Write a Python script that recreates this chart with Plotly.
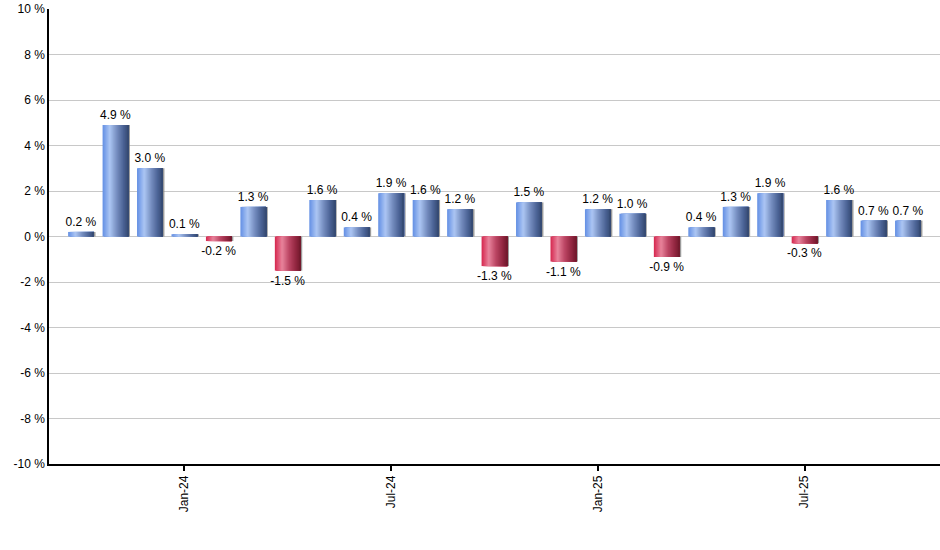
import plotly.graph_objects as go

months = ["Oct-23", "Nov-23", "Dec-23", "Jan-24", "Feb-24", "Mar-24", "Apr-24", "May-24",
          "Jun-24", "Jul-24", "Aug-24", "Sep-24", "Oct-24", "Nov-24", "Dec-24", "Jan-25",
          "Feb-25", "Mar-25", "Apr-25", "May-25", "Jun-25", "Jul-25", "Aug-25", "Sep-25", "Oct-25"]
values = [0.2, 4.9, 3.0, 0.1, -0.2, 1.3, -1.5, 1.6, 0.4, 1.9, 1.6, 1.2, -1.3, 1.5, -1.1,
          1.2, 1.0, -0.9, 0.4, 1.3, 1.9, -0.3, 1.6, 0.7, 0.7]
tick_labels = ["Jan-24", "Jul-24", "Jan-25", "Jul-25"]
y_ticks = list(range(-10, 11, 2))

BAR_W = 0.75
N_SLICES = 24
blue_stops = [(0.0, (98, 143, 228)), (0.28, (172, 198, 243)), (0.55, (118, 142, 192)),
              (0.8, (76, 100, 150)), (1.0, (52, 72, 112))]
red_stops = [(0.0, (214, 38, 78)), (0.28, (232, 132, 156)), (0.55, (188, 70, 100)),
             (0.8, (148, 40, 66)), (1.0, (112, 24, 44))]


def interp(stops, t):
    for (t0, c0), (t1, c1) in zip(stops[:-1], stops[1:]):
        if t0 <= t <= t1:
            f = (t - t0) / (t1 - t0) if t1 > t0 else 0
            return "rgb(%d,%d,%d)" % tuple(round(a + (b - a) * f) for a, b in zip(c0, c1))
    return "rgb(%d,%d,%d)" % stops[-1][1]


fig = go.Figure()

# subtle shadow
fig.add_trace(go.Bar(x=months, y=values, width=BAR_W, offset=-BAR_W / 2 + 0.045,
                     marker=dict(color="rgba(130,130,130,0.8)", line=dict(width=0)),
                     hoverinfo="skip", showlegend=False))

sw = BAR_W / N_SLICES
for i in range(N_SLICES):
    t = (i + 0.5) / N_SLICES
    cols = [interp(blue_stops, t) if v >= 0 else interp(red_stops, t) for v in values]
    fig.add_trace(go.Bar(x=months, y=values, width=BAR_W - i * sw, offset=-BAR_W / 2 + i * sw,
                         marker=dict(color=cols, line=dict(width=0)),
                         hoverinfo="skip", showlegend=False))

# labels
fig.add_trace(go.Bar(x=months, y=values, width=BAR_W, offset=-BAR_W / 2,
                     marker=dict(color="rgba(0,0,0,0)", line=dict(width=0)),
                     text=[f"{v:.1f} %" for v in values], textposition="outside",
                     constraintext="none", textangle=0,
                     textfont=dict(family="Liberation Sans, Arial, sans-serif", size=12, color="#000"),
                     cliponaxis=False, hoverinfo="skip", showlegend=False))

fig.update_layout(
    width=940, height=550,
    margin=dict(l=49, r=0, t=9, b=86),
    barmode="overlay",
    plot_bgcolor="white", paper_bgcolor="white",
    font=dict(family="Liberation Sans, Arial, sans-serif", size=12, color="#000"),
    xaxis=dict(type="category", categoryorder="array", categoryarray=months,
               range=[-0.93, len(months) - 1 + 0.93], automargin=False,
               tickmode="array", tickvals=tick_labels, ticktext=tick_labels,
               tickangle=-90, ticks="outside", ticklen=5, tickwidth=1.5, tickcolor="#000",
               showline=True, linecolor="#000", linewidth=1.5, showgrid=False,
               zeroline=False),
    yaxis=dict(range=[-10, 10], tickmode="array", tickvals=y_ticks, automargin=False,
               ticktext=[f"{v} %" for v in y_ticks], ticks="",
               showline=True, linecolor="#000", linewidth=1.5,
               showgrid=True, gridcolor="#c8c8c8", gridwidth=1, zeroline=False),
)

fig.write_html("out.html", config={"displayModeBar": False},
               post_script="document.body.style.margin='0';")
